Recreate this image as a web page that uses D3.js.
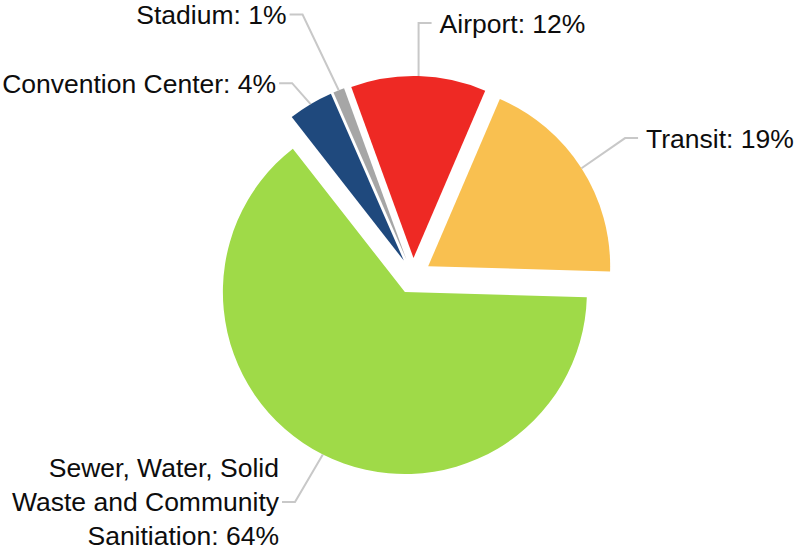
<!DOCTYPE html>
<html>
<head>
<meta charset="utf-8">
<script src="https://cdn.jsdelivr.net/npm/d3@7"></script>
<style>
    body { margin: 0; background: #fff; }
    svg { display: block; }
    .label { font-family: "Liberation Sans", Arial, sans-serif; font-size: 26.5px; fill: #0d0d0d; }
    .leader { fill: none; stroke: #c8c8c8; stroke-width: 2; }
</style>
</head>
<body>
<svg id="pie" width="795" height="554"></svg>
<script>

const categories = ["Airport", "Transit", "Sewer, Water, Solid Waste and Community Sanitiation", "Convention Center", "Stadium"];
const values = [12, 19, 64, 4, 1];
const colors = ["#ee2924", "#f9c050", "#9fda48", "#1f497d", "#a6a6a6"];

// leader lines: small turn (degrees) from the slice middle, and length out of the rim
const leaderTurn = [-1.6, -2.1, 3.6, -10.5, -3.7];
const leaderLength = [53, 53, 55, 28, 84];

class ExplodedPie {

    constructor(svg_element_id) {
        this.svg = d3.select('#' + svg_element_id);
        this.width = +this.svg.attr("width");
        this.height = +this.svg.attr("height");

        this.data = categories.map((c, i) => ({
            name: c,
            value: values[i],
            color: colors[i],
            turn: leaderTurn[i],
            len: leaderLength[i]
        }));
    }

    draw() {
        const cx = 413, cy = 276;
        const radius = 182;
        const explode = 18;
        const toRad = Math.PI / 180;

        const pie = d3.pie()
            .sort(null)
            .value(d => d.value)
            .startAngle(-20 * toRad)
            .endAngle(340 * toRad);

        const arc = d3.arc()
            .innerRadius(0)
            .outerRadius(radius);

        const arcs = pie(this.data);

        const g = this.svg.append("g")
            .attr("transform", "translate(" + cx + "," + cy + ")");

        const mid = d => (d.startAngle + d.endAngle) / 2;
        const offset = d => [explode * Math.sin(mid(d)), -explode * Math.cos(mid(d))];

        g.selectAll("path.slice")
            .data(arcs)
            .enter().append("path")
            .attr("class", "slice")
            .attr("d", arc)
            .attr("fill", d => d.data.color)
            .attr("transform", d => "translate(" + offset(d) + ")");

        const capMid = 9.5;
        const lineStep = 34;
        const horiz = 13;

        arcs.forEach(d => {
            const a = mid(d);
            const o = offset(d);
            const p0 = [o[0] + radius * Math.sin(a), o[1] - radius * Math.cos(a)];
            const b = a + d.data.turn * toRad;
            const p1 = [p0[0] + d.data.len * Math.sin(b), p0[1] - d.data.len * Math.cos(b)];
            const right = p1[0] > 0;
            const p2 = [p1[0] + (right ? horiz : -horiz), p1[1]];

            g.append("path")
                .attr("class", "leader")
                .attr("d", d3.line()([p0, p1, p2]));

            const text = g.append("text")
                .attr("class", "label")
                .attr("text-anchor", right ? "start" : "end");

            const x = p2[0] + (right ? 8 : -3);
            const lines = this.wrap(text, d.data.name + ": " + d.data.value + "%", 290);
            const first = p1[1] + capMid - (lines.length - 1) / 2 * lineStep;

            lines.forEach((l, i) => {
                text.append("tspan")
                    .attr("x", x)
                    .attr("y", first + i * lineStep)
                    .text(l);
            });
        });
    }

    wrap(text, str, maxWidth) {
        const words = str.split(" ");
        const probe = text.append("tspan");
        const lines = [];
        let line = [];
        words.forEach(w => {
            line.push(w);
            probe.text(line.join(" "));
            if (probe.node().getComputedTextLength() > maxWidth && line.length > 1) {
                line.pop();
                lines.push(line.join(" "));
                line = [w];
            }
        });
        lines.push(line.join(" "));
        probe.remove();
        return lines;
    }
}

function whenDocumentLoaded(action) {
    if (document.readyState === "loading") {
        document.addEventListener("DOMContentLoaded", action);
    } else {
        action();
    }
}

whenDocumentLoaded(() => {
    const chart = new ExplodedPie('pie');
    chart.draw();
});
</script>
</body>
</html>
